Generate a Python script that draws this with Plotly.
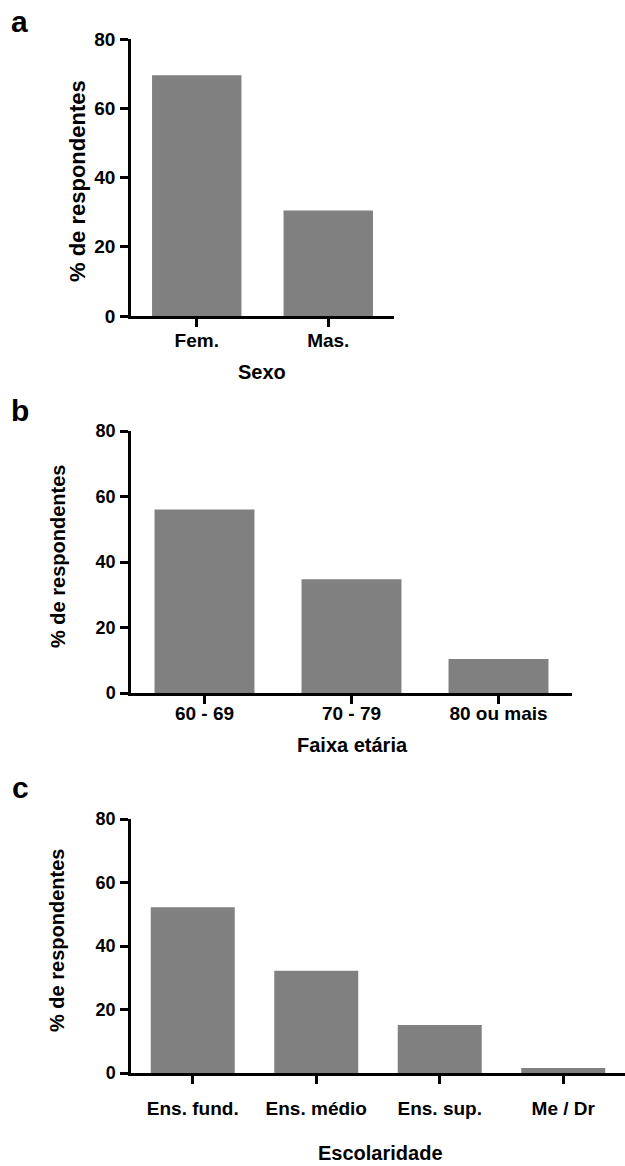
import plotly.graph_objects as go

# Data
sexo_cats = ["Fem.", "Mas."]
sexo_vals = [69.5, 30.5]

idade_cats = ["60 - 69", "70 - 79", "80 ou mais"]
idade_vals = [56.0, 34.7, 10.4]

escol_cats = ["Ens. fund.", "Ens. médio", "Ens. sup.", "Me / Dr"]
escol_vals = [52.2, 32.2, 15.1, 1.6]

y_ticks = [0, 20, 40, 60, 80]

W, H = 625, 1166
FONT = "Liberation Sans, Arial, sans-serif"
BAR = "#808080"

def px_x(v):
    return min(1.0, max(0.0, v / W))

def px_y(v):
    return min(1.0, max(0.0, 1 - v / H))

fig = go.Figure()

panels = [
    dict(cats=sexo_cats, vals=sexo_vals, xd=[131, 394], y0=316, y80=39, xa="x", ya="y",
         title="Sexo", tx=262, ty=372, ytitle_x=78, ytitle_y=181, ytsize=22,
         letter="a", lx=19, ly=22, tick=19, stand=-3),
    dict(cats=idade_cats, vals=idade_vals, xd=[131, 572], y0=693, y80=431, xa="x2", ya="y2",
         title="Faixa etária", tx=352, ty=745, ytitle_x=58, ytitle_y=556, ytsize=20,
         letter="b", lx=20, ly=410, tick=18, stand=-7),
    dict(cats=escol_cats, vals=escol_vals, xd=[131, 625], y0=1073, y80=819, xa="x3", ya="y3",
         title="Escolaridade", tx=380, ty=1153, ytitle_x=57, ytitle_y=941, ytsize=20,
         letter="c", lx=20, ly=787, tick=18, stand=8),
]

annotations = []
for i, p in enumerate(panels):
    fig.add_trace(go.Bar(x=p["cats"], y=p["vals"], marker=dict(color=BAR, line=dict(width=0)),
                         width=0.68, xaxis=p["xa"], yaxis=p["ya"], showlegend=False))
    sfx = "" if i == 0 else str(i + 1)
    fig.layout["xaxis" + sfx] = dict(
        domain=[px_x(p["xd"][0]), px_x(p["xd"][1])],
        anchor=p["ya"], range=[-0.5, len(p["cats"]) - 0.5],
        showline=True, linecolor="black", linewidth=2.5,
        ticks="outside", ticklen=8, tickwidth=2.5, tickcolor="black",
        showgrid=False, zeroline=False, fixedrange=True, automargin=False,
        tickfont=dict(family=FONT, size=19, color="black", weight="bold"),
        ticklabelstandoff=p["stand"],
    )
    fig.layout["yaxis" + sfx] = dict(
        domain=[px_y(p["y0"]), px_y(p["y80"])],
        anchor=p["xa"], range=[0, 80], tickvals=y_ticks,
        showline=True, linecolor="black", linewidth=2.5,
        ticks="outside", ticklen=8, tickwidth=2.5, tickcolor="black",
        showgrid=False, zeroline=False, fixedrange=True, automargin=False,
        tickfont=dict(family=FONT, size=p["tick"], color="black", weight="bold"),
        ticklabelstandoff=1,
    )
    annotations.append(dict(text=p["title"], xref="paper", yref="paper",
                            x=px_x(p["tx"]), y=px_y(p["ty"]), showarrow=False,
                            xanchor="center", yanchor="middle",
                            font=dict(family=FONT, size=20, color="black", weight="bold")))
    annotations.append(dict(text="% de respondentes", xref="paper", yref="paper",
                            x=px_x(p["ytitle_x"]), y=px_y(p["ytitle_y"]), showarrow=False,
                            textangle=-90, xanchor="center", yanchor="middle",
                            font=dict(family=FONT, size=p["ytsize"], color="black", weight="bold")))
    annotations.append(dict(text=p["letter"], xref="paper", yref="paper",
                            x=px_x(p["lx"]), y=px_y(p["ly"]), showarrow=False,
                            xanchor="center", yanchor="middle",
                            font=dict(family=FONT, size=30, color="black", weight="bold")))

fig.update_layout(
    width=W, height=H,
    margin=dict(l=0, r=0, t=0, b=0, pad=0, autoexpand=False),
    paper_bgcolor="white", plot_bgcolor="white",
    annotations=annotations,
)

fig.write_html(
    "out.html",
    config={"displayModeBar": False},
    post_script="document.body.style.margin='0px';document.body.style.overflow='hidden';",
)
